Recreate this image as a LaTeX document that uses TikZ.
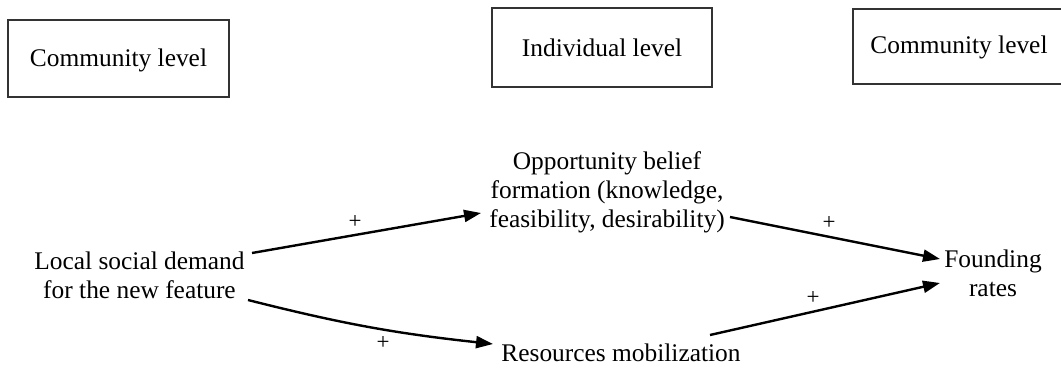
\documentclass[tikz,border=0pt]{standalone}
\usepackage{fontspec}
\setmainfont{Liberation Serif}
\usetikzlibrary{arrows.meta}
\begin{document}
\begin{tikzpicture}[x=1pt,y=1pt,
  levelbox/.style={draw=black!80,line width=1.4pt},
  txt/.style={inner sep=0pt,align=center,font=\fontsize{25.4}{29}\selectfont},
  plus/.style={inner sep=0pt,font=\fontsize{23}{25}\selectfont},
  arr/.style={line width=2.4pt,-{Triangle[length=17pt,width=12pt]}}]
\useasboundingbox (0,0) rectangle (1061,368);
\begin{scope}
\clip (0,0) rectangle (1061,368);
\draw[levelbox] (8,348) rectangle (229,271);
\draw[levelbox] (492,360) rectangle (712,281);
\draw[levelbox] (853,359) rectangle (1070,284);
\end{scope}
\node[txt] (lvl1) at (118.5,308) {Community level};
\node[txt] (lvl2) at (602,320) {Individual level};
\node[txt] (lvl3) at (959,321) {Community level};
\node[txt] (demand) at (139.5,93) {Local social demand\\for the new feature};
\node[txt] (opp) at (607,176) {Opportunity belief\\formation (knowledge,\\feasibility, desirability)};
\node[txt] (found) at (993,95) {Founding\\rates};
\node[txt] (res) at (621,15) {Resources mobilization};
\draw[arr] ([shift={(112.5,22)}]demand.center) -- ([shift={(-126,-21)}]opp.center);
\draw[arr] ([shift={(108.5,-25)}]demand.center) to[bend right=4] ([shift={(-128,9)}]res.center);
\draw[arr] ([shift={(123,-25)}]opp.center) -- ([shift={(-53,14)}]found.center);
\draw[arr] ([shift={(89,18)}]res.center) -- ([shift={(-53,-10)}]found.center);
\node[plus] (p1) at (355,146) {+};
\node[plus] (p2) at (383,25) {+};
\node[plus] (p3) at (829,145) {+};
\node[plus] (p4) at (813,70) {+};
\end{tikzpicture}
\end{document}
